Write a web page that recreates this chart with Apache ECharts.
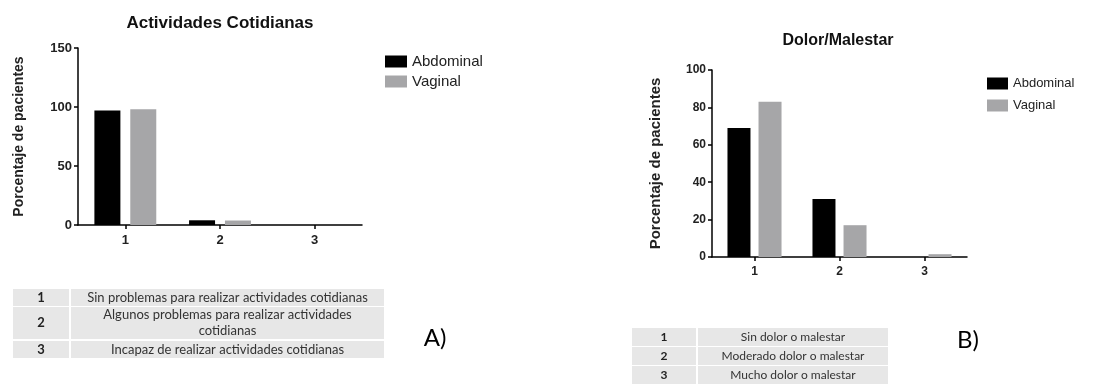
<!DOCTYPE html>
<html>
<head>
<meta charset="utf-8">
<script src="https://cdn.jsdelivr.net/npm/echarts@6/dist/echarts.min.js"></script>
<style>
html,body{margin:0;padding:0;background:#fff;}
#c{width:1113px;height:385px;}
</style>
</head>
<body>
<div id="c"></div>
<script>
// ---- data ----
const categories = ['1', '2', '3'];
const seriesNames = ['Abdominal', 'Vaginal'];
const titleA = 'Actividades Cotidianas';
const titleB = 'Dolor/Malestar';
const yAxisName = 'Porcentaje de pacientes';
const abdominalA = [97, 4, 0];
const vaginalA = [98, 3.8, 0];
const abdominalB = [69, 31, 0];
const vaginalB = [83, 17, 1.5];
const yTicksA = [0, 50, 100, 150];
const yTicksB = [0, 20, 40, 60, 80, 100];
const tableCodesA = ['1', '2', '3'];
const tableTextA = [
  'Sin problemas para realizar actividades cotidianas',
  'Algunos problemas para realizar actividades\ncotidianas',
  'Incapaz de realizar actividades cotidianas'
];
const tableCodesB = ['1', '2', '3'];
const tableTextB = [
  'Sin dolor o malestar',
  'Moderado dolor o malestar',
  'Mucho dolor o malestar'
];
const panelLabels = ['A)', 'B)'];

// ---- layout / styling ----
const FONT = '"Liberation Sans", Arial, sans-serif';
const TFONT = 'Lato, "Open Sans", sans-serif';
const BLACK = '#000000';
const GRAY = '#a6a6a8';

function buildTable(x0, colW1, colW2, rowYs, rowHs, codes, texts, fs) {
  const els = [];
  for (let i = 0; i < codes.length; i++) {
    const y = rowYs[i], h = rowHs[i];
    els.push({ type: 'rect', shape: { x: x0, y: y, width: colW1, height: h }, style: { fill: '#e7e7e7' } });
    els.push({ type: 'rect', shape: { x: x0 + colW1 + 2, y: y, width: colW2, height: h }, style: { fill: '#e7e7e7' } });
    els.push({ type: 'text', x: x0 + colW1 / 2, y: y + h / 2, style: { text: codes[i], fill: '#222', font: 'bold ' + fs + 'px ' + TFONT, align: 'center', verticalAlign: 'middle' } });
    els.push({ type: 'text', x: x0 + colW1 + 2 + colW2 / 2, y: y + h / 2, style: { text: texts[i], fill: '#333', font: fs + 'px ' + TFONT, align: 'center', verticalAlign: 'middle', lineHeight: 16 } });
  }
  return els;
}

const graphics = []
  .concat(buildTable(13, 56, 313, [289, 307, 341], [17, 32, 17], tableCodesA, tableTextA, 13))
  .concat(buildTable(632, 64, 190, [328, 347, 366], [18, 18, 18], tableCodesB, tableTextB, 12));
graphics.push({ type: 'text', x: 435, y: 338, style: { text: panelLabels[0], fill: '#000', font: '24px ' + TFONT, align: 'center', verticalAlign: 'middle' } });
graphics.push({ type: 'text', x: 968, y: 340, style: { text: panelLabels[1], fill: '#000', font: '24px ' + TFONT, align: 'center', verticalAlign: 'middle' } });

function yAxis(gridIndex, ticks, gap, nameFs, labelFs) {
  return {
    type: 'value', gridIndex: gridIndex,
    min: ticks[0], max: ticks[ticks.length - 1], interval: ticks[1] - ticks[0],
    name: yAxisName, nameLocation: 'middle', nameRotate: 90, nameGap: gap,
    nameTextStyle: { fontFamily: FONT, fontWeight: 'bold', fontSize: nameFs, color: '#222' },
    axisLine: { show: true, lineStyle: { color: '#000', width: 1.5 } },
    axisTick: { show: true, length: 4, lineStyle: { color: '#000', width: 1.5 } },
    axisLabel: { fontFamily: FONT, fontWeight: 'bold', fontSize: labelFs, color: '#222', margin: 6 },
    splitLine: { show: false }
  };
}
function xAxis(gridIndex, labelFs) {
  return {
    type: 'category', gridIndex: gridIndex, data: categories,
    axisLine: { show: true, lineStyle: { color: '#000', width: 1.5 } },
    axisTick: { show: true, alignWithLabel: true, length: 4, lineStyle: { color: '#000', width: 1.5 } },
    axisLabel: { fontFamily: FONT, fontWeight: 'bold', fontSize: labelFs, color: '#222', margin: 9 }
  };
}
function legend(left, top, fs, gap, w) {
  return {
    left: left, top: top, orient: 'vertical', data: seriesNames,
    itemWidth: w, itemHeight: 12, itemGap: gap, icon: 'rect', selectedMode: false,
    textStyle: { fontFamily: FONT, fontSize: fs, color: '#222' }
  };
}
function bar(name, data, idx, w, gapPct, color) {
  return {
    type: 'bar', name: name, data: data, xAxisIndex: idx, yAxisIndex: idx,
    barWidth: w, barGap: gapPct, itemStyle: { color: color }, silent: true
  };
}

const option = {
  animation: false,
  backgroundColor: '#ffffff',
  title: [
    { text: titleA, left: 220, top: 15, padding: 0, textAlign: 'center', textStyle: { fontFamily: FONT, fontWeight: 'bold', fontSize: 17, color: '#111' } },
    { text: titleB, left: 838, top: 33, padding: 0, textAlign: 'center', textStyle: { fontFamily: FONT, fontWeight: 'bold', fontSize: 16, color: '#111' } }
  ],
  legend: [legend(380, 49, 15, 5, 22), legend(982, 72, 13, 9, 21)],
  grid: [
    { left: 78, top: 48, width: 284, height: 177, containLabel: false },
    { left: 712, top: 70, width: 255, height: 187, containLabel: false }
  ],
  xAxis: [xAxis(0, 13), xAxis(1, 12)],
  yAxis: [yAxis(0, yTicksA, 52, 14, 13), yAxis(1, yTicksB, 49, 15, 12)],
  series: [
    bar(seriesNames[0], abdominalA, 0, 26, '38%', BLACK),
    bar(seriesNames[1], vaginalA, 0, 26, '38%', GRAY),
    bar(seriesNames[0], abdominalB, 1, 23, '35%', BLACK),
    bar(seriesNames[1], vaginalB, 1, 23, '35%', GRAY)
  ],
  graphic: graphics
};
const chart = echarts.init(document.getElementById('c'), null, { renderer: 'canvas' });
chart.setOption(option);
</script>
</body>
</html>
